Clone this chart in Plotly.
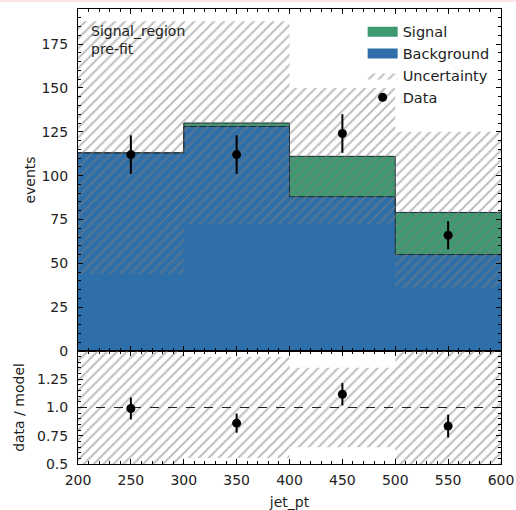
import plotly.graph_objects as go

# ---- data ----
bin_edges = [200, 300, 400, 500, 600]
bin_centers = [250, 350, 450, 550]
background = [113, 128, 88, 55]
signal = [0, 2, 23, 24]
unc_low = [44, 72, 72, 36]
unc_high = [188, 188, 150, 125]
data = [112, 112, 124, 66]
data_err = [11, 11, 11, 8]

region_label = "Signal_region<br>pre-fit"

# ---- derived ----
total = [b + s for b, s in zip(background, signal)]
ratio = [d / t for d, t in zip(data, total)]
ratio_err = [e / t for e, t in zip(data_err, total)]
ratio_low = [l / t for l, t in zip(unc_low, total)]
ratio_high = [h / t for h, t in zip(unc_high, total)]


def stairs(v):
    return list(v) + [v[-1]]


BLUE = "#2e6faa"
GREEN = "#3d9970"
HATCH = "rgb(125,125,125)"
EDGE = "#1f2a33"
FONT = "DejaVu Sans"
TXT = "#222222"

fig = go.Figure()

# stacked histogram
fig.add_trace(go.Bar(x=bin_centers, y=background, width=100, marker=dict(color=BLUE, line=dict(width=0)),
                     showlegend=False, xaxis="x", yaxis="y", hoverinfo="skip"))
fig.add_trace(go.Bar(x=bin_centers, y=signal, width=100, marker=dict(color=GREEN, line=dict(width=0)),
                     showlegend=False, xaxis="x", yaxis="y", hoverinfo="skip"))
# outlines
fig.add_trace(go.Scatter(x=bin_edges, y=stairs(background), mode="lines", line=dict(shape="hv", color=EDGE, width=1),
                         showlegend=False, xaxis="x", yaxis="y"))
fig.add_trace(go.Scatter(x=bin_edges, y=stairs(total), mode="lines", line=dict(shape="hv", color=EDGE, width=1),
                         showlegend=False, xaxis="x", yaxis="y"))

pattern = dict(shape="/", fgcolor=HATCH, bgcolor="rgba(0,0,0,0)", size=7, solidity=0.28, fillmode="overlay")

# uncertainty band (top)
fig.add_trace(go.Scatter(x=bin_edges, y=stairs(unc_low), mode="lines", line=dict(shape="hv", width=0),
                         showlegend=False, xaxis="x", yaxis="y"))
fig.add_trace(go.Scatter(x=bin_edges, y=stairs(unc_high), mode="lines", line=dict(shape="hv", width=0),
                         fill="tonexty", fillcolor="rgba(0,0,0,0)", fillpattern=pattern,
                         name="Uncertainty", legendgroup="u", legendrank=3, xaxis="x", yaxis="y"))

# data (top)
fig.add_trace(go.Scatter(x=bin_centers, y=data, mode="markers", marker=dict(color="black", size=9),
                         error_y=dict(type="data", array=data_err, color="black", thickness=2, width=0),
                         name="Data", legendgroup="d", legendrank=4, xaxis="x", yaxis="y"))

# legend proxies
fig.add_trace(go.Scatter(x=[None], y=[None], mode="lines", line=dict(color=GREEN, width=10),
                         name="Signal", legendgroup="s", legendrank=1, xaxis="x", yaxis="y"))
fig.add_trace(go.Scatter(x=[None], y=[None], mode="lines", line=dict(color=BLUE, width=10),
                         name="Background", legendgroup="b", legendrank=2, xaxis="x", yaxis="y"))

# ratio panel
fig.add_trace(go.Scatter(x=bin_edges, y=stairs(ratio_low), mode="lines", line=dict(shape="hv", width=0),
                         showlegend=False, xaxis="x2", yaxis="y2"))
fig.add_trace(go.Scatter(x=bin_edges, y=stairs(ratio_high), mode="lines", line=dict(shape="hv", width=0),
                         fill="tonexty", fillcolor="rgba(0,0,0,0)", fillpattern=pattern,
                         showlegend=False, xaxis="x2", yaxis="y2"))
fig.add_trace(go.Scatter(x=[bin_edges[0], bin_edges[-1]], y=[1, 1], mode="lines",
                         line=dict(color=TXT, width=1, dash="dash"), showlegend=False, xaxis="x2", yaxis="y2"))
fig.add_trace(go.Scatter(x=bin_centers, y=ratio, mode="markers", marker=dict(color="black", size=9),
                         error_y=dict(type="data", array=ratio_err, color="black", thickness=2, width=0),
                         showlegend=False, xaxis="x2", yaxis="y2"))

split = 113 / 455

axis_common = dict(showline=True, linecolor="black", linewidth=1, mirror="allticks", ticks="inside",
                   ticklen=5, tickwidth=1, tickcolor="black", showgrid=False, zeroline=False,
                   tickfont=dict(family=FONT, size=14, color=TXT))

fig.update_layout(
    width=516, height=510,
    margin=dict(l=78, r=15, t=9, b=46, autoexpand=False),
    paper_bgcolor="white", plot_bgcolor="white",
    barmode="stack", bargap=0,
    font=dict(family=FONT, size=14, color=TXT),
    xaxis=dict(**axis_common, domain=[0, 1], anchor="y", matches="x2", range=[200, 600], dtick=50,
               showticklabels=False, minor=dict(ticks="inside", dtick=10, ticklen=3, tickcolor="black")),
    yaxis=dict(**axis_common, domain=[split, 1], anchor="x", range=[0, 195], dtick=25, ticklabelstandoff=6,
               minor=dict(ticks="inside", dtick=5, ticklen=3, tickcolor="black"),
               title=dict(text="events", standoff=2, font=dict(family=FONT, size=14, color=TXT))),
    xaxis2=dict(**axis_common, domain=[0, 1], anchor="y2", range=[200, 600], dtick=50, ticklabelstandoff=3,
                minor=dict(ticks="inside", dtick=10, ticklen=3, tickcolor="black"),
                title=dict(text="jet_pt", standoff=10, font=dict(family=FONT, size=14, color=TXT))),
    yaxis2=dict(**axis_common, domain=[0, split], anchor="x2", range=[0.5, 1.5], ticklabelstandoff=6,
                tickvals=[0.5, 0.75, 1.0, 1.25], ticktext=["0.5", "0.75", "1.0", "1.25"],
                minor=dict(ticks="inside", dtick=0.05, ticklen=3, tickcolor="black"),
                title=dict(text="data / model", standoff=9, font=dict(family=FONT, size=14, color=TXT))),
    legend=dict(x=0.985, xanchor="right", y=0.985, yanchor="top", bgcolor="rgba(0,0,0,0)",
                traceorder="normal", tracegroupgap=6, itemwidth=30,
                font=dict(family=FONT, size=14.5, color=TXT)),
    annotations=[dict(text=region_label, xref="x domain", yref="y domain", x=0.025, y=0.965,
                      xanchor="left", yanchor="top", align="left", showarrow=False,
                      font=dict(family=FONT, size=14, color=TXT))],
    shapes=[dict(type="rect", xref="paper", yref="paper", x0=-78 / 423, x1=1 + 15 / 423,
                 y0=1 + 7 / 455, y1=1 + 9 / 455, fillcolor="#fbe4e4", line=dict(width=0), layer="below")],
)

fig.write_html("out.html", config={"displayModeBar": False},
               post_script="document.body.style.margin='0';document.body.style.overflow='hidden';"
                           "document.documentElement.style.overflow='hidden';")
